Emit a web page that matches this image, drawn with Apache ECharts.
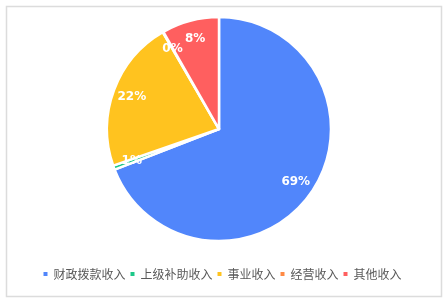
<!DOCTYPE html>
<html><head><meta charset="utf-8">
<script src="https://cdn.jsdelivr.net/npm/echarts@6/dist/echarts.min.js"></script>
<style>html,body{margin:0;padding:0;background:#fff}#c{width:443px;height:298px}</style>
</head><body><div id="c"></div>
<script>
var categories = ['财政拨款收入','上级补助收入','事业收入','经营收入','其他收入'];
var values = [69.3, 0.6, 22.0, 0.1, 8.3];
var colors = ['#5186FB','#1DC889','#FFC31F','#FF8A45','#FF5F5F'];

var pieData = categories.map(function(n,i){return {name:n, value:values[i]};});
var chart = echarts.init(document.getElementById('c'), null, {renderer:'canvas'});
chart.setOption({
  animation:false,
  color: colors,
  graphic:[{type:'rect', left:4, top:4, shape:{width:435, height:290}, style:{fill:'none', stroke:'#dcdcdc', lineWidth:1.5}, silent:true}],
  legend:{
    data: categories, top: 263, left:'center', icon:'rect', itemWidth:6, itemHeight:6, itemGap:3,
    textStyle:{color:'#595959', fontSize:12, fontFamily:'Noto Sans CJK SC'}
  },
  series:[{
    type:'pie', center:[219,129], radius:[0,112], startAngle:90, clockwise:true,
    avoidLabelOverlap:false, label:{show:false}, labelLine:{show:false},
    itemStyle:{borderColor:'#fff', borderWidth:2.5},
    data: pieData
  },{
    type:'pie', center:[219,129], radius:[68,112], startAngle:90, clockwise:true,
    silent:true, legendHoverLink:false, avoidLabelOverlap:false,
    itemStyle:{color:'rgba(0,0,0,0)', borderWidth:0},
    label:{show:true, position:'inside', formatter: function(p){return Math.round(p.percent)+'%';},
      color:'#fff', fontWeight:'bold', fontSize:12, fontFamily:'DejaVu Sans'},
    labelLine:{show:false},
    data: pieData
  }]
});
</script></body></html>
